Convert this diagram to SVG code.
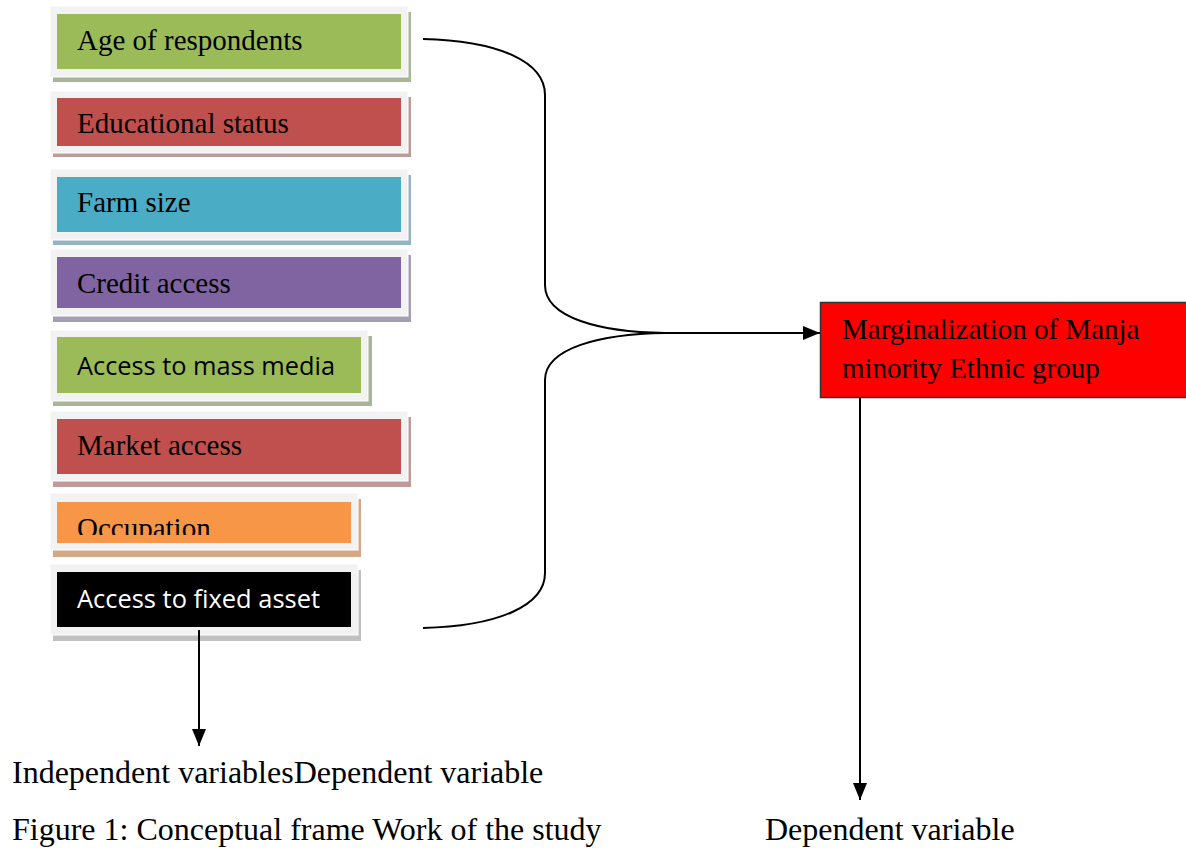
<svg xmlns="http://www.w3.org/2000/svg" width="1186" height="848" viewBox="0 0 1186 848">
<style>
.frame{fill:#f2f2f2;stroke:#ffffff;stroke-width:1}
.serif{font-family:"Liberation Serif","Times New Roman",serif;font-size:29px;fill:#000}
.sans{font-family:"Open Sans","Liberation Sans",sans-serif;font-size:25px}
.cap{font-family:"Liberation Serif","Times New Roman",serif;font-size:32px;fill:#000}
.conn{fill:none;stroke:#000;stroke-width:2}
</style>
<defs>
<marker id="ah" viewBox="0 0 17 14" refX="17" refY="7" markerWidth="17" markerHeight="14" markerUnits="userSpaceOnUse" orient="auto">
<path d="M0,0 L17,7 L0,14 Z" fill="#000"/>
</marker>
<clipPath id="occClip"><rect x="57" y="500" width="294" height="35"/></clipPath>
</defs>
<rect width="1186" height="848" fill="#fff"/>

<g id="n-age">
<rect x="53" y="12" width="358" height="70" fill="#a8b596"/>
<rect class="frame" x="50" y="6" width="358" height="71"/>
<rect x="57" y="14" width="344" height="55" fill="#9bbb59"/>
<text class="serif" x="77" y="50">Age of respondents</text>
</g>
<g id="n-edu">
<rect x="53" y="97" width="358" height="60" fill="#bf9a9a"/>
<rect class="frame" x="50" y="91" width="358" height="62"/>
<rect x="57" y="98" width="344" height="48" fill="#c0504d"/>
<text class="serif" x="77" y="133">Educational status</text>
</g>
<g id="n-farm">
<rect x="53" y="175" width="358" height="70" fill="#94b5c0"/>
<rect class="frame" x="50" y="169" width="358" height="71"/>
<rect x="57" y="177" width="344" height="55" fill="#4bacc6"/>
<text class="serif" x="77" y="212">Farm size</text>
</g>
<g id="n-credit">
<rect x="53" y="255" width="358" height="67" fill="#a69fb3"/>
<rect class="frame" x="50" y="249" width="358" height="67"/>
<rect x="57" y="257" width="344" height="51" fill="#8064a2"/>
<text class="serif" x="77" y="293">Credit access</text>
</g>
<g id="n-media">
<rect x="53" y="336" width="319" height="70" fill="#a8b596"/>
<rect class="frame" x="50" y="330" width="318" height="71"/>
<rect x="57" y="337" width="304" height="56" fill="#9bbb59"/>
<text class="sans" x="77" y="375" fill="#000" textLength="258" lengthAdjust="spacingAndGlyphs">Access to mass media</text>
</g>
<g id="n-market">
<rect x="53" y="417" width="358" height="70" fill="#bf9a9a"/>
<rect class="frame" x="50" y="411" width="358" height="70"/>
<rect x="57" y="419" width="344" height="55" fill="#c0504d"/>
<text class="serif" x="77" y="455">Market access</text>
</g>
<g id="n-occ">
<rect x="53" y="499" width="308" height="58" fill="#d6a787"/>
<rect class="frame" x="50" y="493" width="308" height="57"/>
<rect x="57" y="502" width="294" height="41" fill="#f79646"/>
<text class="serif" x="77" y="538" clip-path="url(#occClip)">Occupation</text>
</g>
<g id="n-asset">
<rect x="53" y="570" width="308" height="71" fill="#c0c0c0"/>
<rect class="frame" x="50" y="564" width="308" height="71"/>
<rect x="57" y="572" width="294" height="55" fill="#000"/>
<text class="sans" x="77" y="608" fill="#fff" textLength="243" lengthAdjust="spacingAndGlyphs">Access to fixed asset</text>
</g>
<g id="n-target">
<rect x="820.5" y="302.5" width="380" height="95" fill="#ff0000" stroke="#333" stroke-width="1.5"/>
<text class="serif" x="842" y="339">Marginalization of Manja</text>
<text class="serif" x="842" y="378">minority Ethnic group</text>
</g>

<g id="connectors">
<path class="conn" d="M423,39 C500,41 545,62 545,95 L545,285 C545,318 600,332 665,333"/>
<path class="conn" d="M423,628 C500,626 545,605 545,573 L545,380 C545,348 600,334 665,333"/>
<path class="conn" d="M655,333 L820,333" marker-end="url(#ah)"/>
<path class="conn" d="M199,630 L199,746" marker-end="url(#ah)"/>
<path class="conn" d="M860,397 L860,800" marker-end="url(#ah)"/>
</g>

<g id="labels">
<text class="cap" x="12" y="783">Independent variablesDependent variable</text>
<text class="cap" x="12" y="840">Figure 1: Conceptual frame Work of the study</text>
<text class="cap" x="765" y="840">Dependent variable</text>
</g>
</svg>
